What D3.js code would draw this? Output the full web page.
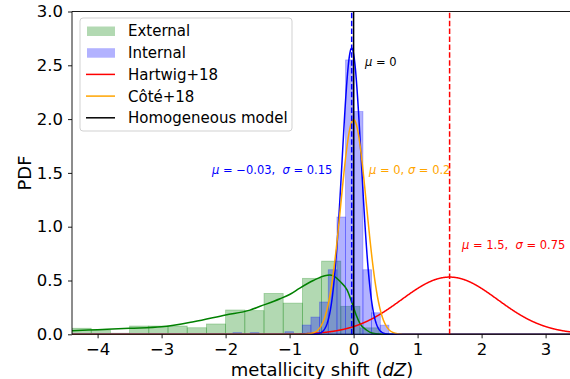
<!DOCTYPE html>
<html><head><meta charset="utf-8">
<script src="https://cdn.jsdelivr.net/npm/d3@7"></script>
<style>body{margin:0;background:#fff}svg{display:block;font-family:"DejaVu Sans",sans-serif}text{white-space:pre}</style>
</head><body><svg id="c" width="570" height="379"></svg>
<script>
// ---------- data ----------
const xTicks = [-4, -3, -2, -1, 0, 1, 2, 3];
const yTicks = [0, 0.5, 1, 1.5, 2, 2.5, 3];
const xDomain = [-4.4, 3.4];
const yDomain = [0, 3];

// External histogram (bin edges, densities)
const extEdges = [-4.4,-4.1,-3.8,-3.5,-3.2,-2.9,-2.6,-2.3,-2.0,-1.7,-1.4,-1.1,-0.8,-0.5,-0.2,0.1,0.4];
const extHeights = [0.056,0.04,0.01,0.077,0.077,0.077,0.061,0.096,0.226,0.22,0.38,0.29,0.52,0.68,0.26,0.06];

// Internal histogram (bin edges, densities)
const intEdges = [-1.885,-1.750,-1.615,-1.479,-1.344,-1.208,-1.073,-0.938,-0.802,-0.667,-0.531,-0.396,-0.260,-0.125,0.010,0.146,0.281,0.417,0.552,
  0.688,0.823,0.959,1.094,1.229,1.365,1.500,1.636,1.771,1.907,2.042,2.177,2.313,2.448,2.584,2.719,2.854,2.990,3.125,3.261,3.396];
const intHeights = [0.015,0,0.015,0,0,0,0.024,0,0.086,0.16,0.3,0.6,1.09,2.55,2.07,0.6,0.2,0.085,
  0,0,0,0,0,0,0,0,0,0,0,0,0,0,0,0,0,0,0,0,0,0,0];

// Gaussian models (from annotations)
const gaussLabels = ["Hartwig+18", "Côté+18", "Internal fit"];
const gaussMu = [1.5, 0, -0.03];
const gaussSigma = [0.75, 0.2, 0.15];

// External fit curve
const extCurveX = [-4.4,-4.0,-3.5,-3.0,-2.5,-2.0,-1.62,-1.46,-1.15,-1.0,-0.84,-0.63,-0.45,-0.37,-0.28,-0.21,-0.1,-0.03,0.04,0.1,0.2,0.3,0.4,0.6,3.4];
const extCurveY = [0.033,0.043,0.056,0.07,0.117,0.18,0.225,0.26,0.33,0.37,0.43,0.5,0.545,0.55,0.53,0.49,0.41,0.3,0.18,0.1,0.04,0.01,0.002,0,0];

// legend
const legendLabels = ["External", "Internal", "Hartwig+18", "Côté+18", "Homogeneous model"];

// ---------- drawing ----------
const svg = d3.select("#c");
const x = d3.scaleLinear().domain(xDomain).range([72, 571.2]);
const y = d3.scaleLinear().domain(yDomain).range([334.3, 11.5]);

svg.append("defs").append("clipPath").attr("id","clip")
  .append("rect").attr("x",72).attr("y",11.5).attr("width",500).attr("height",323.5);
const plot = svg.append("g").attr("clip-path","url(#clip)");

function hist(edges, heights, color){
  const bins = heights.map((h,i)=>({x0:edges[i], x1:edges[i+1], h})).filter(d=>d.h>0);
  plot.append("g").selectAll("rect").data(bins).join("rect")
    .attr("x", d=>x(d.x0)).attr("width", d=>x(d.x1)-x(d.x0))
    .attr("y", d=>y(d.h)).attr("height", d=>y(0)-y(d.h))
    .attr("fill", color).attr("fill-opacity",0.3)
    .attr("stroke", color).attr("stroke-opacity",0.3).attr("stroke-width",0.8);
}
hist(extEdges, extHeights, "green");
hist(intEdges, intHeights, "blue");

const line = d3.line().x(d=>x(d[0])).y(d=>y(d[1]));
const gaussPdf = (m,s)=>v=>Math.exp(-0.5*((v-m)/s)**2)/(s*Math.sqrt(2*Math.PI));
const grid = d3.range(xDomain[0], xDomain[1]+0.005, 0.005);

// external curve
plot.append("path").datum(extCurveX.map((v,i)=>[v, extCurveY[i]]))
  .attr("d", d3.line().x(d=>x(d[0])).y(d=>y(d[1])).curve(d3.curveMonotoneX))
  .attr("fill","none").attr("stroke","green").attr("stroke-width",1.5);

const gColors = ["red","orange","blue"];
[0,2,1].forEach(i=>{
  const f = gaussPdf(gaussMu[i], gaussSigma[i]);
  plot.append("path").datum(grid.map(v=>[v, f(v)]))
    .attr("d", line).attr("fill","none").attr("stroke", gColors[i]).attr("stroke-width",1.5);
});

// empty internal bins: their edges lie on the baseline
const emptyBins = intHeights.map((h,i)=>({x0:intEdges[i], x1:intEdges[i+1], h})).filter((d,i)=>d.h===0 && d.x0>0);
plot.append("g").selectAll("line").data(emptyBins).join("line")
  .attr("x1", d=>x(d.x0)).attr("x2", d=>x(d.x1)).attr("y1", y(0)).attr("y2", y(0))
  .attr("stroke","blue").attr("stroke-opacity",0.3).attr("stroke-width",1.6);

// vertical lines
plot.append("line").attr("x1",x(0)).attr("x2",x(0)).attr("y1",y(0)).attr("y2",y(3))
  .attr("stroke","black").attr("stroke-width",1.5);
plot.append("line").attr("x1",x(gaussMu[2])).attr("x2",x(gaussMu[2])).attr("y1",y(0)).attr("y2",y(3))
  .attr("stroke","blue").attr("stroke-width",1.5).attr("stroke-dasharray","5.5,2.4");
plot.append("line").attr("x1",x(gaussMu[0])).attr("x2",x(gaussMu[0])).attr("y1",y(0)).attr("y2",y(3))
  .attr("stroke","red").attr("stroke-width",1.5).attr("stroke-dasharray","5.5,2.4");

// axes
const xa = svg.append("g").attr("transform",`translate(0,${y(0)})`)
  .call(d3.axisBottom(x).tickValues(xTicks).tickSize(4).tickPadding(5).tickSizeOuter(0));
const ya = svg.append("g").attr("transform",`translate(72,0)`)
  .call(d3.axisLeft(y).tickValues(yTicks).tickFormat(d3.format(".1f")).tickSize(4).tickPadding(5).tickSizeOuter(0));
[xa,ya].forEach(a=>{
  a.selectAll("text").attr("font-size","16.5px").attr("fill","#000").attr("font-family","DejaVu Sans");
  a.selectAll(".tick line").attr("stroke","#000").attr("stroke-width",0.9);
  a.select(".domain").attr("stroke","none");
});
// spines
svg.append("line").attr("x1",72).attr("x2",72).attr("y1",11.5).attr("y2",334.3).attr("stroke","#000").attr("stroke-width",0.9);
svg.append("line").attr("x1",72).attr("x2",571).attr("y1",334.3).attr("y2",334.3).attr("stroke","#000").attr("stroke-width",0.9);
svg.append("line").attr("x1",72).attr("x2",571).attr("y1",11.5).attr("y2",11.5).attr("stroke","#000").attr("stroke-width",0.9);

// axis labels
const xl = svg.append("text").attr("x",322).attr("y",376).attr("text-anchor","middle").attr("font-size","18px");
xl.append("tspan").text("metallicity shift (");
xl.append("tspan").attr("font-style","italic").text("dZ");
xl.append("tspan").text(")");
svg.append("text").attr("transform","translate(30.5,173) rotate(-90)").attr("text-anchor","middle")
  .attr("font-size","18px").text("PDF");

// annotations
function ann(px, py, color, parts){
  const t = svg.append("text").attr("x",px).attr("y",py).attr("fill",color).attr("font-size","11.5px");
  parts.forEach(p=>t.append("tspan").attr("font-style", p[1]?"italic":"normal").text(p[0]));
}
ann(365, 66, "black", [["μ",1],[" = 0",0]]);
ann(212, 174, "blue", [["μ",1],[" = −0.03,  ",0],["σ",1],[" = 0.15",0]]);
ann(369, 174, "orange", [["μ",1],[" = 0, ",0],["σ",1],[" = 0.2",0]]);
ann(462, 249, "red", [["μ",1],[" = 1.5,  ",0],["σ",1],[" = 0.75",0]]);

// legend
const lg = svg.append("g");
lg.append("rect").attr("x",80).attr("y",18).attr("width",212).attr("height",113).attr("rx",3)
  .attr("fill","white").attr("fill-opacity",0.8).attr("stroke","#cccccc").attr("stroke-width",0.9);
const legColors = ["green","blue","red","orange","black"];
legendLabels.forEach((lab,i)=>{
  const cy = 31 + i*21.7;
  if(i<2){
    lg.append("rect").attr("x",87).attr("y",cy-4.5).attr("width",28).attr("height",9.5)
      .attr("fill",legColors[i]).attr("fill-opacity",0.3);
  } else {
    lg.append("line").attr("x1",86).attr("x2",115).attr("y1",cy).attr("y2",cy)
      .attr("stroke",legColors[i]).attr("stroke-width",1.5);
  }
  lg.append("text").attr("x",128).attr("y",cy+5.4).attr("font-size","15px").text(lab);
});
</script></body></html>
